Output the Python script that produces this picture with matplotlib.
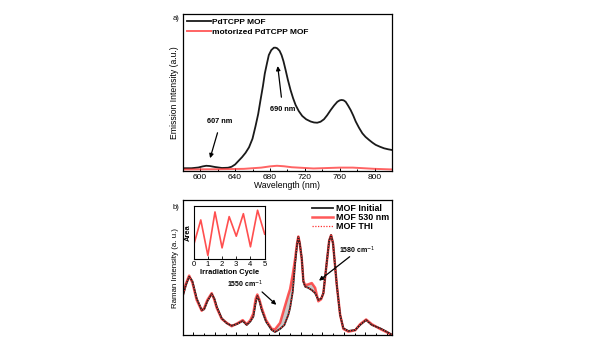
import matplotlib
matplotlib.use('Agg')
import matplotlib.pyplot as plt

plt.rcParams['font.family'] = ['Liberation Sans', 'DejaVu Sans']

# --- emission spectra (panel a) ---
wavelength = [580, 590, 598, 603, 607, 611, 617, 625, 632, 636, 640, 644, 648, 652, 656, 660,
              663.4, 666.5, 669.2, 672, 674.1, 676.5, 678.7, 681.5, 684.5, 686.5, 688.3, 691,
              693.3, 695.5, 697.9, 700.5, 703.6, 706.5, 709.4, 713, 717.0, 721.5, 726.6, 730.5,
              734.2, 738, 741.9, 745.5, 749.6, 753.5, 757.2, 760, 762.2, 764.5, 766.8, 769.5,
              772.5, 775.5, 778.3, 782, 785.9, 789.5, 793.6, 797.5, 801.2, 806, 810.8, 815.5, 820]
pdtcpp_mof = [0.02, 0.02, 0.026, 0.035, 0.04, 0.038, 0.03, 0.022, 0.024, 0.032, 0.05, 0.08, 0.11, 0.145, 0.19, 0.26,
              0.36, 0.46, 0.575, 0.69, 0.79, 0.87, 0.94, 0.98, 1.0, 1.0, 0.995, 0.975,
              0.94, 0.89, 0.82, 0.74, 0.656, 0.59, 0.534, 0.485, 0.445, 0.418, 0.40, 0.392,
              0.39, 0.398, 0.418, 0.45, 0.493, 0.53, 0.56, 0.572, 0.575, 0.572, 0.56, 0.53,
              0.493, 0.448, 0.40, 0.35, 0.304, 0.275, 0.25, 0.228, 0.21, 0.195, 0.182, 0.174, 0.168]
motor_wl = [580, 620, 650, 670, 680, 688, 696, 705, 730, 760, 775, 800, 820]
motorized_mof = [0.01, 0.012, 0.015, 0.025, 0.035, 0.04, 0.036, 0.028, 0.018, 0.025, 0.025, 0.015, 0.01]

# --- Raman spectra (panel b) ---
raman_shift = [1460, 1463, 1466, 1469, 1473, 1477.7, 1480, 1483, 1487, 1489.5, 1491.7, 1496.3,
               1501, 1505.6, 1510.6, 1515.9, 1519.6, 1523, 1525.8, 1528, 1529.5, 1531.5, 1533.6,
               1537.6, 1542.9, 1546, 1550.7, 1554.7, 1558.4, 1560, 1562.5, 1564.6, 1566.5,
               1567.7, 1569, 1570.9, 1572.4, 1574, 1576.8, 1580.2, 1583.3, 1586.3, 1588.9,
               1591, 1594.2, 1596.4, 1598.2, 1600, 1603.5, 1606.6, 1609.6, 1614.3, 1620.6,
               1625.2, 1630.8, 1636.1, 1643.8, 1650.1, 1655]
mof_initial = [0.284, 0.37, 0.432, 0.40, 0.272, 0.185, 0.19, 0.25, 0.304, 0.27, 0.21, 0.124,
               0.087, 0.069, 0.081, 0.104, 0.074, 0.10, 0.136, 0.24, 0.289, 0.25, 0.185,
               0.099, 0.037, 0.022, 0.045, 0.074, 0.15, 0.2, 0.322, 0.52, 0.67,
               0.728, 0.68, 0.568, 0.395, 0.358, 0.35, 0.333, 0.31, 0.26, 0.27,
               0.31, 0.543, 0.70, 0.741, 0.68, 0.37, 0.148, 0.05, 0.03, 0.037,
               0.074, 0.111, 0.074, 0.05, 0.024, 0.0]
mof_530 = [0.30, 0.38, 0.44, 0.39, 0.26, 0.18, 0.20, 0.26, 0.31, 0.26, 0.20, 0.12,
           0.09, 0.065, 0.085, 0.11, 0.08, 0.11, 0.16, 0.27, 0.30, 0.26, 0.20,
           0.11, 0.045, 0.042, 0.09, 0.20, 0.30, 0.34, 0.45, 0.56, 0.68,
           0.73, 0.68, 0.56, 0.40, 0.37, 0.375, 0.385, 0.35, 0.25, 0.265,
           0.31, 0.54, 0.70, 0.74, 0.68, 0.37, 0.15, 0.045, 0.025, 0.035,
           0.08, 0.115, 0.08, 0.045, 0.02, 0.0]
mof_thi = [0.285, 0.37, 0.43, 0.40, 0.27, 0.186, 0.19, 0.25, 0.303, 0.27, 0.21, 0.125,
           0.088, 0.07, 0.08, 0.104, 0.075, 0.10, 0.137, 0.24, 0.288, 0.25, 0.186,
           0.10, 0.038, 0.023, 0.046, 0.075, 0.15, 0.2, 0.32, 0.52, 0.67,
           0.727, 0.68, 0.567, 0.395, 0.357, 0.35, 0.334, 0.31, 0.26, 0.27,
           0.31, 0.542, 0.70, 0.740, 0.68, 0.37, 0.148, 0.05, 0.03, 0.037,
           0.074, 0.111, 0.074, 0.05, 0.024, 0.0]

# --- inset: band area over switching cycles ---
cycle = [0, 0.5, 1, 1.5, 2, 2.5, 3, 3.5, 4, 4.5, 5]
area = [0.263, 0.737, 0.066, 0.888, 0.21, 0.80, 0.43, 0.855, 0.23, 0.92, 0.47]

RED = '#ff3030'
ARROW = dict(arrowstyle='-|>', color='k', lw=0.9, mutation_scale=6)

fig = plt.figure(figsize=(6, 3.38), dpi=100)

# ---------------- panel a ----------------
ax1 = fig.add_axes([0.3045, 0.495, 0.349, 0.4636])
ax1.plot(wavelength, pdtcpp_mof, color='#1a1a1a', lw=1.3, label='PdTCPP MOF')
ax1.plot(motor_wl, motorized_mof, color=RED, lw=1.4, alpha=0.75, label='motorized PdTCPP MOF')
ax1.set_xlim(580, 820)
ax1.set_ylim(0, 1.274)
ax1.set_xticks([600, 640, 680, 720, 760, 800])
ax1.set_xticks([620, 660, 700, 740, 780], minor=True)
ax1.set_yticks([])
ax1.tick_params(axis='x', which='both', direction='in', labelsize=6, pad=2.5, width=0.7)
ax1.tick_params(axis='x', which='major', length=2.5)
ax1.tick_params(axis='x', which='minor', length=1.5)
ax1.set_xlabel('Wavelength (nm)', fontsize=6.2, labelpad=0)
ax1.set_ylabel('Emission Intensity (a.u.)', fontsize=6.2, labelpad=2.5)
for s in ax1.spines.values():
    s.set_linewidth(0.9)
ax1.legend(loc='upper left', bbox_to_anchor=(-0.005, 1.005), frameon=False,
           prop={'weight': 'bold', 'size': 6}, handlelength=2.9, handletextpad=0.15,
           labelspacing=0.25, borderaxespad=0.2)

ax1.text(695, 0.50, '690 nm', fontsize=5.3, fontweight='bold', ha='center', va='center')
ax1.annotate('', xy=(688.5, 0.873), xytext=(693.5, 0.575), arrowprops=ARROW)
ax1.text(622.8, 0.40, '607 nm', fontsize=5.3, fontweight='bold', ha='center', va='center')
ax1.annotate('', xy=(610.5, 0.08), xytext=(620.8, 0.33), arrowprops=ARROW)
fig.text(0.293, 0.944, 'a)', fontsize=5.5, ha='center', va='center')

# ---------------- panel b ----------------
ax2 = fig.add_axes([0.3045, 0.0089, 0.349, 0.399])
ax2.fill_between(raman_shift, mof_initial, mof_530,
                 where=[b > a for a, b in zip(mof_initial, mof_530)],
                 interpolate=True, color='#c8c8c8', lw=0)
ax2.plot(raman_shift, mof_530, color=RED, lw=1.8, alpha=0.8, label='MOF 530 nm')
ax2.plot(raman_shift, mof_initial, color='#222222', lw=1.3, label='MOF Initial')
ax2.plot(raman_shift, mof_thi, color=RED, lw=0.9, ls=(0, (1, 1.2)), label='MOF THI')
ax2.set_xlim(1460, 1655)
ax2.set_ylim(0, 1.0)
ax2.set_xticks([1470, 1490, 1510, 1530, 1550, 1570, 1590, 1610, 1630, 1650])
ax2.set_xticks([1480, 1500, 1520, 1540, 1560, 1580, 1600, 1620, 1640], minor=True)
ax2.set_xticklabels([])
ax2.set_yticks([])
ax2.tick_params(axis='x', which='both', direction='in', width=0.7)
ax2.tick_params(axis='x', which='major', length=2.5)
ax2.tick_params(axis='x', which='minor', length=1.5)
ax2.set_ylabel('Raman Intensity (a. u.)', fontsize=5.7, labelpad=2.5)
for s in ax2.spines.values():
    s.set_linewidth(0.9)
handles, labels = ax2.get_legend_handles_labels()
order = [1, 0, 2]
ax2.legend([handles[i] for i in order], [labels[i] for i in order],
           loc='upper right', bbox_to_anchor=(1.01, 1.01), frameon=False,
           prop={'weight': 'bold', 'size': 6.4}, handlelength=2.4, handletextpad=0.25,
           labelspacing=0.0, borderaxespad=0.2)

ax2.text(1518.0, 0.376, '1550 cm$^{-1}$', fontsize=5, fontweight='bold', ha='center', va='center')
ax2.annotate('', xy=(1549.1, 0.21), xytext=(1532.0, 0.333), arrowprops=ARROW)
ax2.text(1622.1, 0.63, '1580 cm$^{-1}$', fontsize=5, fontweight='bold', ha='center', va='center')
ax2.annotate('', xy=(1584.9, 0.39), xytext=(1617.5, 0.593), arrowprops=ARROW)
fig.text(0.293, 0.385, 'b)', fontsize=5.5, ha='center', va='center')

# inset with the area of the switching band
ins = fig.add_axes([0.3228, 0.2337, 0.1183, 0.1568])
ins.plot(cycle, area, color=RED, lw=1.2, alpha=0.85)
ins.set_xlim(0, 5)
ins.set_ylim(0, 1.0)
ins.set_xticks([0, 1, 2, 3, 4, 5])
ins.set_yticks([])
ins.tick_params(axis='x', direction='in', length=2, width=0.6, labelsize=5.5, pad=1.5)
ins.set_xlabel('Irradiation Cycle', fontsize=5.4, fontweight='bold', labelpad=0.5)
ins.set_ylabel('Area', fontsize=5.4, fontweight='bold', labelpad=1)
for s in ins.spines.values():
    s.set_linewidth(0.8)

fig.savefig('out.png', dpi=100)
